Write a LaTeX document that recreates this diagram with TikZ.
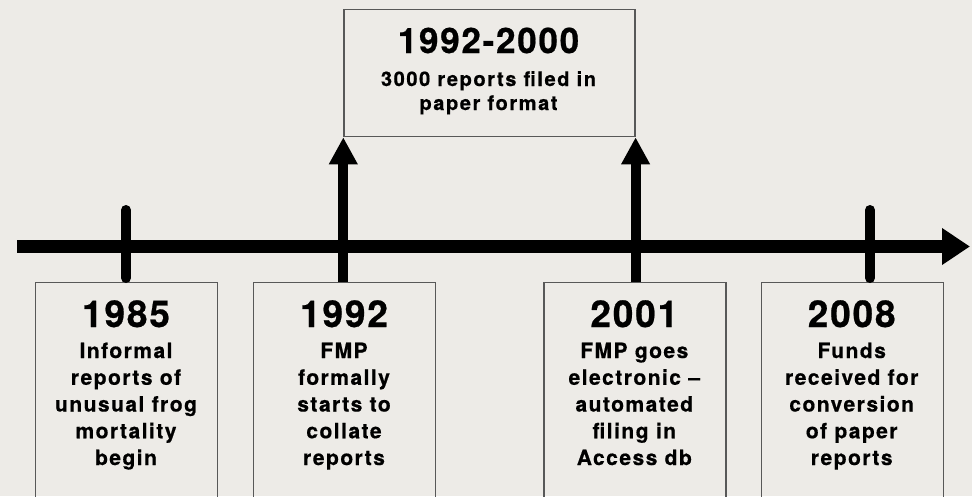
\documentclass[tikz,border=0pt]{standalone}
\usepackage{fontspec}
\setmainfont{TeX Gyre Heros}
\newfontfamily\yearfam[LetterSpace=5,FakeBold=0.6]{TeX Gyre Heros}
\newfontfamily\bodyfam[LetterSpace=7,FakeBold=0.6]{TeX Gyre Heros}
\newfontfamily\subfam[LetterSpace=8,FakeBold=0.6]{TeX Gyre Heros}
\usetikzlibrary{arrows.meta}
\definecolor{bgc}{HTML}{EDEBE7}
\definecolor{boxc}{HTML}{585858}
\begin{document}
\begin{tikzpicture}[x=1pt,y=-1pt,
  evbox/.style={draw=boxc, line width=1.3pt, rectangle, inner sep=0pt, anchor=north west},
  yeartxt/.style={anchor=base, inner sep=0pt, font=\yearfam\bfseries\fontsize{37}{37}\selectfont},
  topyeartxt/.style={anchor=base, inner sep=0pt, font=\yearfam\bfseries\fontsize{35}{35}\selectfont},
  bodytxt/.style={anchor=base, inner sep=0pt, font=\bodyfam\bfseries\fontsize{21}{21}\selectfont},
  subtxt/.style={anchor=base, inner sep=0pt, font=\subfam\bfseries\fontsize{20}{20}\selectfont},
  axisline/.style={line width=13pt, -{Triangle[length=28pt,width=35pt]}},
  uparrow/.style={line width=10pt, -{Triangle[length=27pt,width=27pt]}},
  tickline/.style={line width=10pt, line cap=round}
]
\path[use as bounding box] (0,0) rectangle (972,496);
\clip (0,0) rectangle (972,496);
\fill[bgc] (0,0) rectangle (972,496);

% boxes
\node[evbox, minimum width=291pt, minimum height=127pt] (top) at (343.3,9) {};
\node[evbox, minimum width=182pt, minimum height=260pt] (b1) at (35,282) {};
\node[evbox, minimum width=182pt, minimum height=260pt] (b2) at (253,282) {};
\node[evbox, minimum width=182pt, minimum height=260pt] (b3) at (543.3,282) {};
\node[evbox, minimum width=182pt, minimum height=260pt] (b4) at (760.7,282) {};

% main axis
\coordinate (axs) at (17,246.5);
\coordinate (axe) at (970,246.5);
\draw[axisline] (axs) -- (axe);

% ticks
\coordinate (t1top) at (126,210);
\coordinate (t1bot) at (126,278);
\coordinate (t4top) at (870,210);
\coordinate (t4bot) at (870,278);
\draw[tickline] (t1top) -- (t1bot);
\draw[tickline] (t4top) -- (t4bot);

% arrows to top box
\coordinate (a2s) at (b2.north -| top.south west);
\coordinate (a3s) at (b3.north -| top.south east);
\draw[uparrow] (a2s) -- (a2s |- top.south);
\draw[uparrow] (a3s) -- (a3s |- top.south);

% top box text
\node[topyeartxt] (ty) at (488.5,53) {1992-2000};
\node[subtxt] (ts1) at (488.5,86) {3000 reports filed in};
\node[subtxt] (ts2) at (488.5,110) {paper format};

% bottom texts
\node[yeartxt] (y1) at (126,327) {1985};
\foreach \t [count=\i] in {Informal,reports of,unusual frog,mortality,begin}
  \node[bodytxt] (p1\i) at (126,{358+26.75*(\i-1)}) {\t};

\node[yeartxt] (y2) at (344,327) {1992};
\foreach \t [count=\i] in {FMP,formally,starts to,collate,reports}
  \node[bodytxt] (p2\i) at (344,{358+26.75*(\i-1)}) {\t};

\node[yeartxt] (y3) at (634.3,327) {2001};
\foreach \t [count=\i] in {FMP goes,electronic –,automated,filing in,Access db}
  \node[bodytxt] (p3\i) at (634.3,{358+26.75*(\i-1)}) {\t};

\node[yeartxt] (y4) at (851.7,327) {2008};
\foreach \t [count=\i] in {Funds,received for,conversion,of paper,reports}
  \node[bodytxt] (p4\i) at (851.7,{358+26.75*(\i-1)}) {\t};
\end{tikzpicture}
\end{document}
